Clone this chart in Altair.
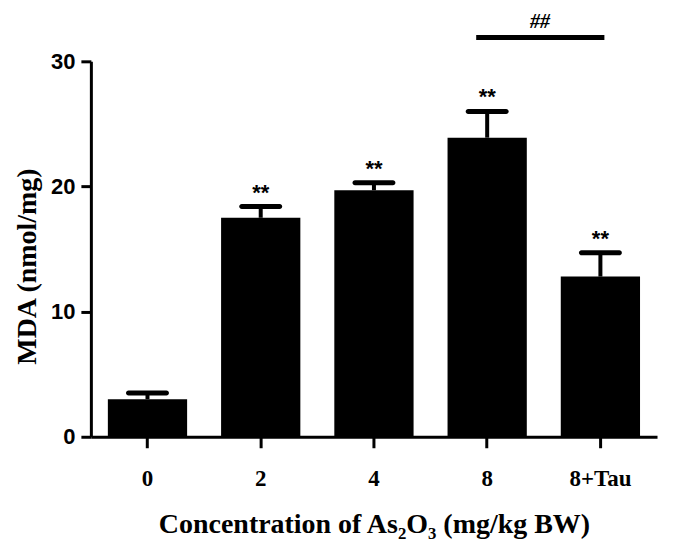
import altair as alt
import pandas as pd

groups = ["0", "2", "4", "8", "8+Tau"]
means = [3.0, 17.5, 19.7, 23.9, 12.8]
err_top = [3.5, 18.4, 20.3, 26.0, 14.7]
stars = ["", "**", "**", "**", "**"]
y_ticks = [0, 10, 20, 30]
sig_from = ["8"]
sig_to = ["8+Tau"]
sig_label = ["##"]
sig_line_y = [31.9]
sig_text_y = [32.7]

df = pd.DataFrame({"g": groups, "m": means, "e": err_top, "s": stars})
sig = pd.DataFrame({"a": sig_from, "b": sig_to, "y": sig_line_y, "t": sig_label, "ty": sig_text_y})

SERIF = "Liberation Serif"
SANS = "Liberation Sans"

xscale = alt.Scale(domain=groups, paddingInner=0.3, paddingOuter=0.15)
yscale = alt.Scale(domain=[0, 30], nice=False)

x = alt.X(
    "g:N", sort=groups, scale=xscale,
    axis=alt.Axis(
        title="Concentration of As₂O₃ (mg/kg BW)", labelAngle=0,
        labelFont=SERIF, labelFontSize=23, labelFontWeight="bold", labelPadding=20,
        titleFont=SERIF, titleFontSize=28, titleFontWeight="bold", titlePadding=20,
        tickSize=11,
    ),
)
y = alt.Y(
    "m:Q", scale=yscale,
    axis=alt.Axis(
        title="MDA (nmol/mg)", values=y_ticks,
        labelFont=SANS, labelFontSize=22, labelFontWeight="bold", labelPadding=6,
        titleFont=SERIF, titleFontSize=28, titleFontWeight="bold", titlePadding=9,
        titleY=205,
        tickSize=10,
    ),
)

base = alt.Chart(df)
bars = base.mark_bar(color="black").encode(x=x, y=y)
stem = base.mark_rule(color="black", strokeWidth=4, opacity=1).encode(
    x=alt.X("g:N", sort=groups, scale=xscale), y=alt.Y("m:Q", scale=yscale), y2="e:Q"
)
cap = base.mark_tick(color="black", opacity=1, thickness=5, size=43, cornerRadius=2.5).encode(
    x=alt.X("g:N", sort=groups, scale=xscale), y=alt.Y("e:Q", scale=yscale)
)
star_text = base.mark_text(
    font=SANS, fontSize=22, fontWeight="bold", baseline="alphabetic", dy=-7, color="black"
).encode(x=alt.X("g:N", sort=groups, scale=xscale), y=alt.Y("e:Q", scale=yscale), text="s:N")

sig_rule = alt.Chart(sig).mark_rule(color="black", strokeWidth=5, xOffset=-11, x2Offset=4).encode(
    x=alt.X("a:N", scale=xscale), x2="b:N", y=alt.Y("y:Q", scale=yscale)
)
sig_txt = alt.Chart(sig).mark_text(
    font=SERIF, fontSize=20, fontWeight="bold", fontStyle="italic", baseline="alphabetic", dx=53, color="black"
).encode(x=alt.X("a:N", scale=xscale), y=alt.Y("ty:Q", scale=yscale), text="t:N")

chart = (
    alt.layer(bars, stem, cap, star_text, sig_rule, sig_txt)
    .properties(
        width=567, height=376,
        autosize=alt.AutoSizeParams(type="none"),
        padding={"left": 83, "top": 53, "right": 10, "bottom": 108},
    )
    .configure_axis(
        domainColor="black", domainWidth=3, tickColor="black", tickWidth=3,
        grid=False, labelColor="black", titleColor="black",
    )
    .configure_view(stroke=None)
)

chart.save("out.html", embed_options={"renderer": "svg", "actions": False})
